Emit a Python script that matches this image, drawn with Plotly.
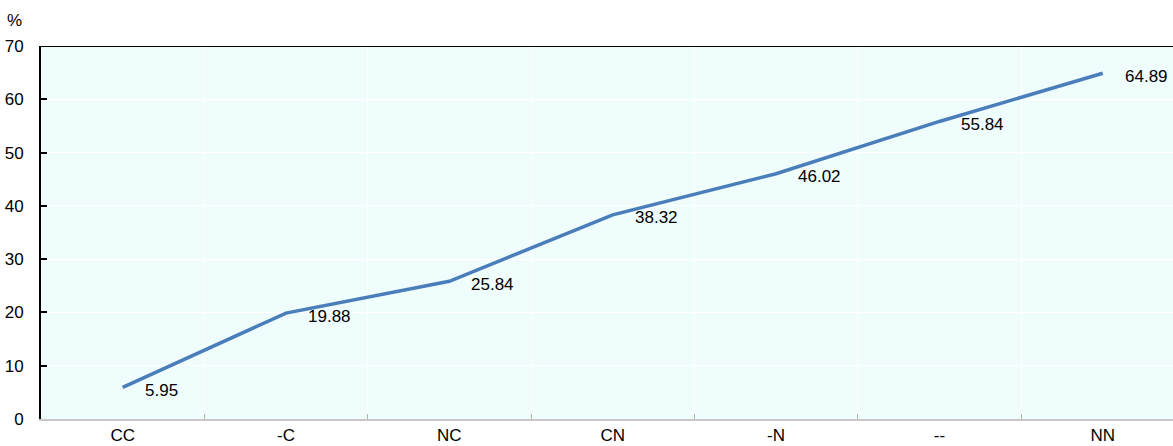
import plotly.graph_objects as go

categories = ["CC", "-C", "NC", "CN", "-N", "--", "NN"]
values = [5.95, 19.88, 25.84, 38.32, 46.02, 55.84, 64.89]
y_ticks = [0, 10, 20, 30, 40, 50, 60, 70]

FONT = "Liberation Sans, Arial, sans-serif"
FS = 17
BG = "#f0fdfd"

fig = go.Figure()
fig.add_trace(go.Scatter(
    x=categories, y=values, mode="lines",
    line=dict(color="#4a7ebb", width=3.5),
    hoverinfo="skip", showlegend=False,
))

for c, v in zip(categories, values):
    fig.add_annotation(
        x=c, y=v, text=f"{v:.2f}", showarrow=False,
        xanchor="left", yanchor="middle", xshift=20, yshift=-3,
        font=dict(family=FONT, size=FS, color="#000000"),
    )

fig.add_annotation(
    x=0, xref="paper", xanchor="right", xshift=-17,
    y=1, yref="paper", yanchor="bottom", yshift=14,
    text="%", showarrow=False,
    font=dict(family=FONT, size=FS, color="#000000"),
)

fig.add_shape(
    type="line", xref="paper", x0=0, x1=1, yref="y", y0=70, y1=70,
    line=dict(color="#000000", width=2), layer="above",
)

fig.update_layout(
    width=1173, height=446,
    margin=dict(l=41, r=0, t=46, b=27),
    paper_bgcolor="#ffffff", plot_bgcolor=BG,
    font=dict(family=FONT, size=FS, color="#000000"),
    xaxis=dict(
        type="category", range=[-0.5, 6.43], automargin=False,
        tickson="boundaries", ticks="inside", ticklen=5, tickcolor="#b0b0b0", tickwidth=1,
        showgrid=True, gridcolor="#ffffff", gridwidth=1,
        showline=True, linecolor="#c8c8c8", linewidth=2,
        tickfont=dict(family=FONT, size=FS), zeroline=False,
    ),
    yaxis=dict(
        range=[0, 70], tickvals=y_ticks, automargin=False,
        ticks="inside", ticklen=6, tickcolor="#000000", tickwidth=2,
        showgrid=True, gridcolor="#ffffff", gridwidth=1,
        showline=True, linecolor="#000000", linewidth=2,
        zeroline=False, ticklabelstandoff=12,
        tickfont=dict(family=FONT, size=FS),
    ),
)

fig.write_html("out.html")
